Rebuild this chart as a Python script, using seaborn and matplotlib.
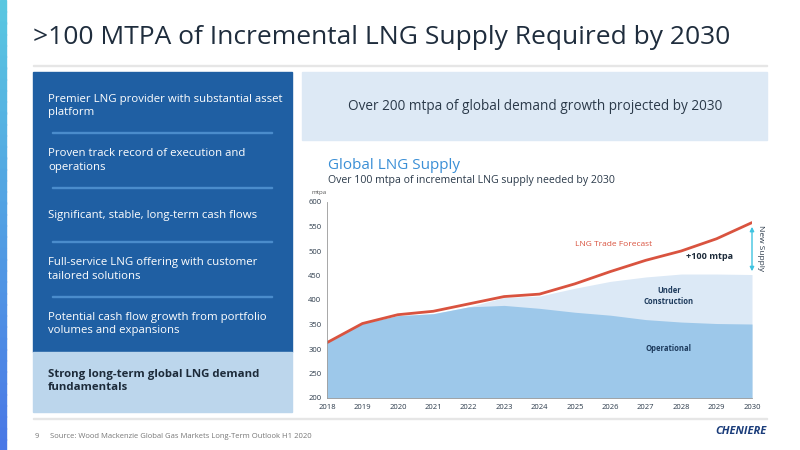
import matplotlib
matplotlib.use("Agg")
import matplotlib.pyplot as plt
import numpy as np
import seaborn as sns
from matplotlib.patches import Rectangle

# ---------------------------------------------------------------------------
# Data
# ---------------------------------------------------------------------------
years = [2018, 2019, 2020, 2021, 2022, 2023, 2024, 2025, 2026, 2027, 2028, 2029, 2030]
trade_forecast = [313, 352, 370, 377, 392, 407, 412, 433, 458, 481, 500, 525, 558]
total_supply = [313, 352, 368, 372, 386, 405, 408, 424, 438, 447, 453, 453, 452]
operational = [313, 352, 368, 372, 386, 389, 383, 375, 369, 360, 355, 352, 351]
y_ticks = [200, 250, 300, 350, 400, 450, 500, 550, 600]

bullets = [
    "Premier LNG provider with substantial asset\nplatform",
    "Proven track record of execution and\noperations",
    "Significant, stable, long-term cash flows",
    "Full-service LNG offering with customer\ntailored solutions",
    "Potential cash flow growth from portfolio\nvolumes and expansions",
]
highlight = "Strong long-term global LNG demand\nfundamentals"

sns.set_theme(style="white")
plt.rcParams["font.family"] = ["Open Sans", "DejaVu Sans"]

fig = plt.figure(figsize=(8, 4.5), dpi=100)
W, H = 800, 450


def box(x0, y0, x1, y1, color, **kw):
    fig.patches.append(Rectangle((x0 / W, 1 - y1 / H), (x1 - x0) / W, (y1 - y0) / H,
                                 transform=fig.transFigure, color=color, zorder=0, **kw))


def txt(x, y, s, **kw):
    fig.text(x / W, 1 - y / H, s, **kw)


# slide frame
for i in range(40):
    c = np.array([0.35, 0.78, 0.88]) * (1 - i / 39) + np.array([0.29, 0.47, 0.90]) * (i / 39)
    box(0, i * H / 40, 6, (i + 1) * H / 40 + 1, tuple(c))
box(33, 65, 767, 66, "#e6e6e6")
box(33, 418, 767, 419, "#e6e6e6")
txt(33, 38, ">100 MTPA of Incremental LNG Supply Required by 2030",
    fontsize=19, color="#1f2d3d", va="center")

# left panel
box(33, 72, 292, 352, "#1f5fa3")
box(33, 352, 292, 412, "#bcd6ec")
for i, b in enumerate(bullets):
    yc = 106 + i * 54.5
    txt(48, yc, b, fontsize=8.2, color="white", va="center", linespacing=1.35)
    if i < 4:
        box(52, yc + 26, 272, yc + 27, "#4a8ccc")
txt(48, 381, highlight, fontsize=8.2, color="#1d2b3a", weight="bold",
    va="center", linespacing=1.35)

# top right banner
box(302, 72, 767, 140, "#dde9f5")
txt(535, 106, "Over 200 mtpa of global demand growth projected by 2030",
    fontsize=9.8, color="#2b3a4a", ha="center", va="center")

txt(328, 166, "Global LNG Supply", fontsize=11, color="#3a8fd6", va="center")
txt(328, 180, "Over 100 mtpa of incremental LNG supply needed by 2030",
    fontsize=7.6, color="#2b3a4a", va="center")
txt(311, 192, "mtpa", fontsize=4.5, color="#555555", va="center")

# footer
txt(35, 436, "9", fontsize=5.5, color="#777777", va="center")
txt(50, 436, "Source: Wood Mackenzie Global Gas Markets Long-Term Outlook H1 2020",
    fontsize=5.5, color="#777777", va="center")
txt(767, 432, "CHENIERE", fontsize=8, color="#1a3c7a", weight="bold",
    style="italic", ha="right", va="center")

# ---------------------------------------------------------------------------
# Chart
# ---------------------------------------------------------------------------
ax = fig.add_axes([327 / W, 1 - 398 / H, (752 - 327) / W, (398 - 202) / H])
ax.fill_between(years, 200, total_supply, color="#dce9f6", lw=0)
ax.fill_between(years, 200, operational, color="#9dc8ea", lw=0)
sns.lineplot(x=years, y=trade_forecast, ax=ax, color="#d9533f", lw=2)

ax.set_xlim(2018, 2030)
ax.set_ylim(200, 600)
ax.set_xticks(years)
ax.set_yticks(y_ticks)
ax.tick_params(labelsize=5.5, colors="#2b3a4a", length=2, pad=2)
for s in ["top", "right"]:
    ax.spines[s].set_visible(False)
for s in ["left", "bottom"]:
    ax.spines[s].set_color("#999999")
    ax.spines[s].set_linewidth(0.6)
ax.set_facecolor("white")

ax.text(2026.1, 510, "LNG Trade Forecast", fontsize=6, color="#d9533f", ha="center")
ax.text(2027.65, 302, "Operational", fontsize=5.5, color="#1d3a5c", weight="bold",
        ha="center", va="center")
ax.text(2027.65, 408, "Under\nConstruction", fontsize=5.5, color="#1d3a5c", weight="bold",
        ha="center", va="center", linespacing=1.3)
ax.text(2028.8, 484, "+100 mtpa", fontsize=6.5, color="#1d2b3a", weight="bold", ha="center")
ax.annotate("", xy=(2030, 555), xytext=(2030, 453),
            arrowprops=dict(arrowstyle="<|-|>", color="#3fc3e0", lw=1, mutation_scale=6),
            annotation_clip=False)
ax.text(2030.25, 505, "New Supply", fontsize=6, color="#2b3a4a", rotation=270,
        ha="center", va="center", clip_on=False)

fig.savefig("out.png", dpi=100)
